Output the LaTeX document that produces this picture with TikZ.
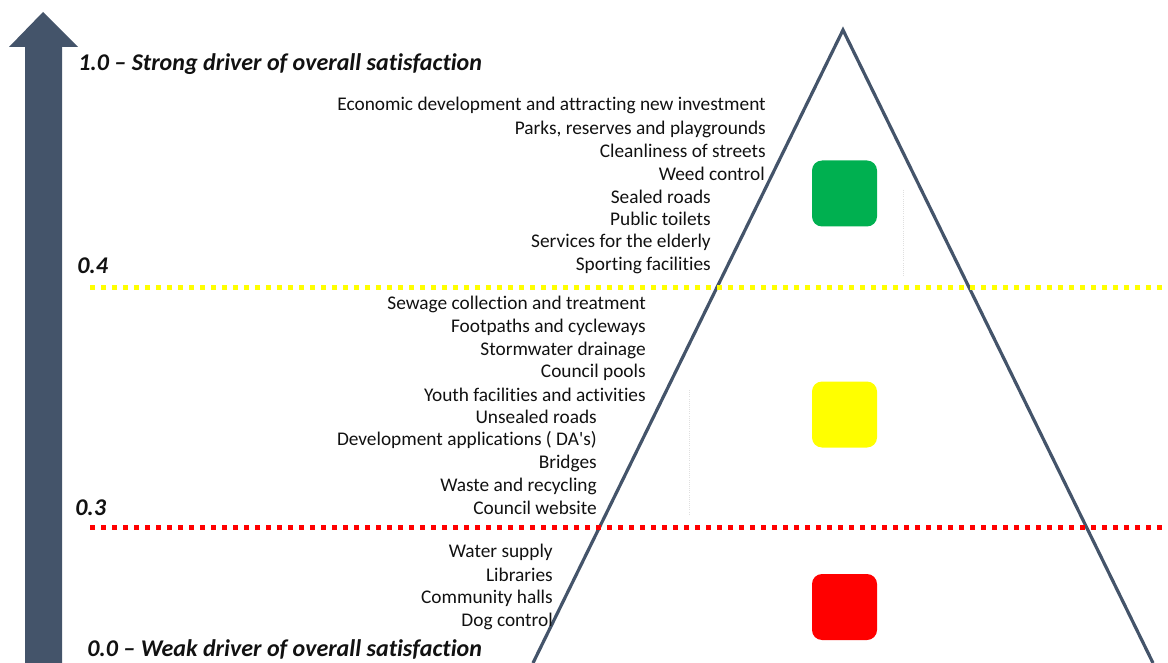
\documentclass[tikz,border=0pt]{standalone}
\usepackage{fontspec}
\setmainfont[Ligatures={TeX,CommonOff}]{Carlito}
\usepackage{xcolor}
\usetikzlibrary{positioning}

\definecolor{slate}{HTML}{44546A}
\definecolor{goodgreen}{HTML}{00B050}
\definecolor{midyellow}{HTML}{FFFF00}
\definecolor{lowred}{HTML}{FF0000}
\definecolor{inkgray}{HTML}{111111}

\begin{document}
\begin{tikzpicture}[
    x=0.75pt, y=-0.75pt,
    item/.style={anchor=east, inner sep=0pt, text=inkgray, font=\fontsize{14.5}{16}\selectfont},
    level/.style={anchor=west, inner sep=0pt, text=inkgray, font=\fontsize{18}{20}\selectfont\bfseries\itshape},
    band/.style={line width=3.75pt, dash pattern=on 3.75pt off 4.5pt},
    lamp/.style={rounded corners=7.5pt, minimum width=48.75pt, minimum height=49.5pt, inner sep=0pt},
    guide/.style={gray!25, line width=0.6pt, densely dotted}
]
\useasboundingbox (0,0) rectangle (1168,663);

% axis arrow
\fill[slate] (25,663) -- (25,47) -- (9,47) -- (43,12) -- (78,47) -- (62,47) -- (62,663) -- cycle;

% pyramid
\coordinate (apex) at (843,30);
\coordinate (baseL) at (533,663);
\coordinate (baseR) at (1153,663);
\draw[slate, line width=2.4pt, line join=miter] (baseL) -- (apex) -- (baseR);

% faint guides
\draw[guide] (903,190) -- (903,276);
\draw[guide] (689,390) -- (689,515);

% thresholds
\coordinate (y4a) at (90,287);
\coordinate (y4b) at (1168,287);
\coordinate (y3a) at (90,527);
\coordinate (y3b) at (1168,527);
\draw[band, midyellow] (y4a) -- (y4b);
\draw[band, lowred] (y3a) -- (y3b);

% traffic lights
\node[lamp, fill=goodgreen] (green) at (844.5,193.5) {};
\node[lamp, fill=midyellow] (amber) at (844.5,414.5) {};
\node[lamp, fill=lowred] (red) at (844.5,607) {};

% scale labels
\node[level] (top) at (78,64) {1.0 -- Strong driver of overall satisfaction};
\node[level] (l4) at (77,266) {0.4};
\node[level] (l3) at (75,508) {0.3};
\node[level] (bottom) at (87,649) {0.0 -- Weak driver of overall satisfaction};

% strong drivers
\node[item] (econ) at (766,105) {Economic development and attracting new investment};
\node[item] (parks) at (766,129) {Parks, reserves and playgrounds};
\node[item] (clean) at (766,151) {Cleanliness of streets};
\node[item] (weed) at (765,174) {Weed control};
\node[item] (sealed) at (711,197) {Sealed roads};
\node[item] (toilets) at (711,219) {Public toilets};
\node[item] (elderly) at (711,242) {Services for the elderly};
\node[item] (sport) at (711,265) {Sporting facilities};

% medium drivers
\node[item] (sewage) at (646,304) {Sewage collection and treatment};
\node[item] (paths) at (646,327) {Footpaths and cycleways};
\node[item] (storm) at (646,350) {Stormwater drainage};
\node[item] (pools) at (646,372) {Council pools};
\node[item] (youth) at (646,395) {Youth facilities and activities};
\node[item] (unsealed) at (597,417) {Unsealed roads};
\node[item] (das) at (597,440) {Development applications ( DA\textquotesingle s)};
\node[item] (bridges) at (597,463) {Bridges};
\node[item] (waste) at (597,486) {Waste and recycling};
\node[item] (web) at (597,508) {Council website};

% weak drivers
\node[item] (water) at (553,552) {Water supply};
\node[item] (libs) at (553,575) {Libraries};
\node[item] (halls) at (553,598) {Community halls};
\node[item] (dogs) at (553,621) {Dog control};

\end{tikzpicture}
\end{document}
